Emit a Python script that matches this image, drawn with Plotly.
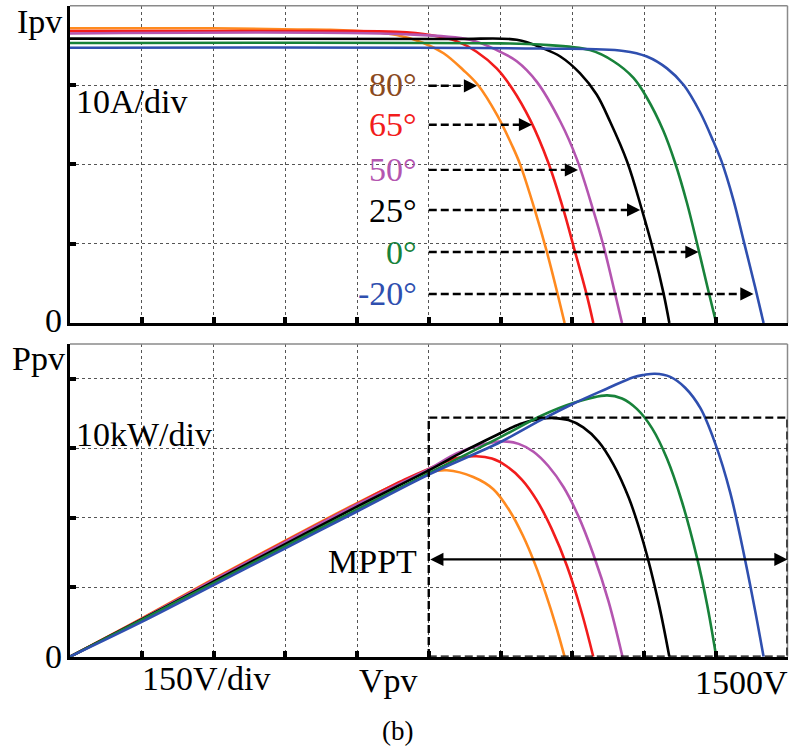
import plotly.graph_objects as go

W, H = 791, 750

# ---------------- data ----------------
temps = ["80°", "65°", "50°", "25°", "0°", "-20°"]
curve_colors = ["#FF8A1F", "#F21C1C", "#B455B0", "#000000", "#18823A", "#2F4FAF"]
label_colors = ["#8B4A1E", "#F21C1C", "#B455B0", "#000000", "#18823A", "#2F4FAF"]

# I-V curves (V in volts, I in amps)
iv_v_80 = [0, 300, 475, 544, 630, 683, 739, 781, 822, 853, 893, 924, 941, 972, 997, 1020, 1034]
iv_i_80 = [37.15, 37.15, 37.0, 36.95, 36.7, 36.3, 35.3, 34.0, 31.9, 30.0, 26.2, 22.4, 20.0, 14.2, 8.95, 3.5, 0]
iv_v_65 = [0, 540, 683, 753, 809, 850, 892, 924, 962, 1000, 1032, 1053, 1080, 1094]
iv_i_65 = [36.8, 36.8, 36.7, 36.3, 35.5, 34.2, 32.1, 29.6, 25.6, 20.2, 14.2, 9.6, 3.6, 0]
iv_v_50 = [0, 700, 836, 892, 934, 976, 1025, 1060, 1094, 1115, 1129, 1154]
iv_i_50 = [36.5, 36.4, 35.7, 34.4, 33.0, 30.4, 25.4, 20.6, 14.2, 9.8, 6.4, 0]
iv_v_25 = [0, 800, 934, 990, 1025, 1066, 1101, 1129, 1165, 1196, 1220, 1241, 1253]
iv_i_25 = [35.85, 35.8, 35.7, 34.6, 33.6, 31.5, 28.8, 25.4, 20.3, 14.2, 9.0, 3.7, 0]
iv_v_0 = [0, 900, 983, 1087, 1136, 1178, 1206, 1240, 1265, 1290, 1313, 1334, 1351]
iv_i_0 = [35.3, 35.25, 35.1, 34.4, 33.0, 30.9, 28.4, 24.3, 20.2, 15.1, 9.5, 4.2, 0]
iv_v_m20 = [0, 983, 1157, 1206, 1248, 1283, 1317, 1345, 1362, 1387, 1409, 1432, 1450]
iv_i_m20 = [34.7, 34.6, 34.3, 33.6, 32.1, 30.0, 26.6, 22.9, 20.4, 15.5, 10.2, 4.6, 0]

# P-V curves (V in volts, P in kW)
pv_v_80 = [0, 150, 300, 450, 600, 700, 750, 788, 843, 885, 920, 947, 972, 995, 1016, 1034]
pv_p_80 = [0, 5.5, 11.2, 16.7, 22.1, 25.4, 26.55, 26.83, 25.86, 24.1, 20.9, 17.4, 13.36, 8.97, 4.41, 0]
pv_v_65 = [0, 150, 300, 450, 600, 700, 751, 809, 850, 882, 913, 945, 976, 1007, 1039, 1070, 1094]
pv_p_65 = [0, 5.45, 11.1, 16.6, 22.0, 25.5, 27.07, 28.59, 28.84, 28.51, 27.41, 25.46, 22.5, 18.39, 13.05, 6.29, 0]
pv_v_50 = [0, 150, 300, 450, 600, 750, 809, 860, 906, 938, 969, 1000, 1032, 1063, 1094, 1126, 1155]
pv_p_50 = [0, 5.4, 11.0, 16.5, 21.9, 27.0, 29.3, 30.5, 30.99, 30.63, 29.5, 27.44, 24.38, 20.19, 14.74, 7.93, 0]
pv_v_25 = [0, 150, 300, 450, 600, 750, 822, 892, 941, 983, 1011, 1042, 1073, 1105, 1136, 1168, 1199, 1230, 1253]
pv_p_25 = [0, 5.35, 10.8, 16.2, 21.6, 26.8, 29.5, 31.9, 33.5, 34.2, 34.34, 34.05, 33.0, 30.96, 27.69, 22.9, 16.39, 7.89, 0]
pv_v_0 = [0, 150, 300, 450, 600, 750, 900, 983, 1052, 1122, 1154, 1185, 1217, 1248, 1279, 1311, 1332, 1351]
pv_p_0 = [0, 5.3, 10.6, 15.9, 21.2, 26.4, 31.6, 34.6, 36.5, 37.6, 37.16, 35.66, 32.86, 28.51, 22.37, 14.18, 7.47, 0]
pv_v_m20 = [0, 150, 300, 450, 600, 750, 900, 983, 1052, 1122, 1178, 1200, 1223, 1255, 1286, 1318, 1349, 1380, 1412, 1433, 1450]
pv_p_m20 = [0, 5.0, 10.3, 15.6, 20.9, 26.2, 30.9, 34.0, 36.4, 38.56, 40.23, 40.55, 40.72, 40.27, 38.71, 35.76, 30.66, 23.68, 13.71, 6.38, 0]

iv_v = [iv_v_80, iv_v_65, iv_v_50, iv_v_25, iv_v_0, iv_v_m20]
iv_i = [iv_i_80, iv_i_65, iv_i_50, iv_i_25, iv_i_0, iv_i_m20]
pv_v = [pv_v_80, pv_v_65, pv_v_50, pv_v_25, pv_v_0, pv_v_m20]
pv_p = [pv_p_80, pv_p_65, pv_p_50, pv_p_25, pv_p_0, pv_p_m20]

# temperature arrows in the I-V panel
arrow_start_v = 750
arrow_i = [29.9, 25.0, 19.3, 14.25, 8.95, 3.66]
arrow_tip_v = [851, 966, 1062, 1192, 1314, 1429]

# MPPT window in the P-V panel
mppt_v = [750, 1500]
mppt_p_top = 34.4
mppt_arrow_p = 14.0

v_ticks = list(range(0, 1501, 150))
i_ticks = [0, 10, 20, 30, 40]
p_ticks = [0, 10, 20, 30, 40]

# ---------------- figure ----------------
FONT = "Liberation Serif, Times New Roman, serif"
DASH = "8px,4px"
fig = go.Figure()

for k in range(6):
    fig.add_trace(go.Scatter(x=iv_v[k], y=iv_i[k], mode="lines", xaxis="x", yaxis="y",
                             line=dict(color=curve_colors[k], width=2.6, shape="spline", smoothing=1.0),
                             hoverinfo="skip", showlegend=False))
for k in range(6):
    fig.add_trace(go.Scatter(x=pv_v[k], y=pv_p[k], mode="lines", xaxis="x2", yaxis="y2",
                             line=dict(color=curve_colors[k], width=2.6, shape="spline", smoothing=1.0),
                             hoverinfo="skip", showlegend=False))

# dashed arrow shafts
for k in range(6):
    fig.add_trace(go.Scatter(x=[arrow_start_v, arrow_tip_v[k] - 10], y=[arrow_i[k], arrow_i[k]],
                             mode="lines", xaxis="x", yaxis="y",
                             line=dict(color="black", width=2.4, dash=DASH),
                             hoverinfo="skip", showlegend=False))

x_dom = [70 / W, 787.5 / W]
top_dom = [1 - 323 / H, 1 - 5.7 / H]
bot_dom = [1 - 656.7 / H, 1 - 344 / H]

axis_common = dict(showline=True, linecolor="black", linewidth=3, ticks="inside",
                   ticklen=6, tickwidth=4, tickcolor="black", showticklabels=False,
                   showgrid=True, gridcolor="#555555", gridwidth=1, griddash="dot",
                   zeroline=False, fixedrange=True)

fig.update_layout(
    width=W, height=H, autosize=False,
    margin=dict(l=0, r=0, t=0, b=0),
    paper_bgcolor="white", plot_bgcolor="white",
    showlegend=False,
    xaxis=dict(domain=x_dom, range=[0, 1500], tickvals=v_ticks, anchor="y", **axis_common),
    yaxis=dict(domain=top_dom, range=[0, 40], tickvals=i_ticks, anchor="x", **axis_common),
    xaxis2=dict(domain=x_dom, range=[0, 1500], tickvals=v_ticks, anchor="y2", **axis_common),
    yaxis2=dict(domain=bot_dom, range=[0, 45], tickvals=p_ticks, anchor="x2", **axis_common),
)

shapes = []
# thin gray top/right borders
for xr, yr in (("x domain", "y domain"), ("x2 domain", "y2 domain")):
    shapes.append(dict(type="line", xref=xr, yref=yr, x0=0, x1=1, y0=1, y1=1,
                       line=dict(color="#8a8a8a", width=1.5)))
    shapes.append(dict(type="line", xref=xr, yref=yr, x0=1, x1=1, y0=0, y1=1,
                       line=dict(color="#8a8a8a", width=1.5)))
# MPPT dashed window
shapes.append(dict(type="rect", xref="x2", yref="y2", x0=mppt_v[0], x1=mppt_v[1],
                   y0=0, y1=mppt_p_top, line=dict(color="black", width=2.4, dash=DASH)))
fig.update_layout(shapes=shapes)

ann = []
# arrowheads of temperature arrows
for k in range(6):
    ann.append(dict(x=arrow_tip_v[k], y=arrow_i[k], ax=arrow_tip_v[k] - 24, ay=arrow_i[k],
                    xref="x", yref="y", axref="x", ayref="y", text="", showarrow=True,
                    arrowhead=2, arrowsize=1.1, arrowwidth=2.4, arrowcolor="black", standoff=0))
# temperature labels
label_py = [85, 125, 169, 210, 252, 293]
for k in range(6):
    ann.append(dict(x=419 / W, y=1 - label_py[k] / H, xref="paper", yref="paper",
                    text=temps[k], showarrow=False, xanchor="right", yanchor="middle",
                    font=dict(family=FONT, size=34, color=label_colors[k])))
# MPPT double arrow
ann.append(dict(x=mppt_v[1], y=mppt_arrow_p, ax=mppt_v[0], ay=mppt_arrow_p,
                xref="x2", yref="y2", axref="x2", ayref="y2", text="", showarrow=True,
                arrowhead=2, startarrowhead=2, arrowside="end+start", arrowsize=1.1,
                startarrowsize=1.1, arrowwidth=2.4, arrowcolor="black", standoff=0, startstandoff=0))


def txt(s, px, py, xanchor="left", size=34):
    ann.append(dict(x=px / W, y=1 - py / H, xref="paper", yref="paper", text=s, showarrow=False,
                    xanchor=xanchor, yanchor="middle", font=dict(family=FONT, size=size, color="black")))


txt("Ipv", 64, 22, "right")
txt("0", 64, 321, "right")
txt("10A/div", 74, 101)
txt("Ppv", 67, 358, "right")
txt("0", 64, 656, "right")
txt("10kW/div", 74, 434)
txt("150V/div", 140, 678)
txt("Vpv", 357, 680)
txt("1500V", 790, 682, "right")
txt("MPPT", 419, 561, "right")
txt("(b)", 397, 731, "center", size=27)

fig.update_layout(annotations=ann)

fig.write_html("out.html")
